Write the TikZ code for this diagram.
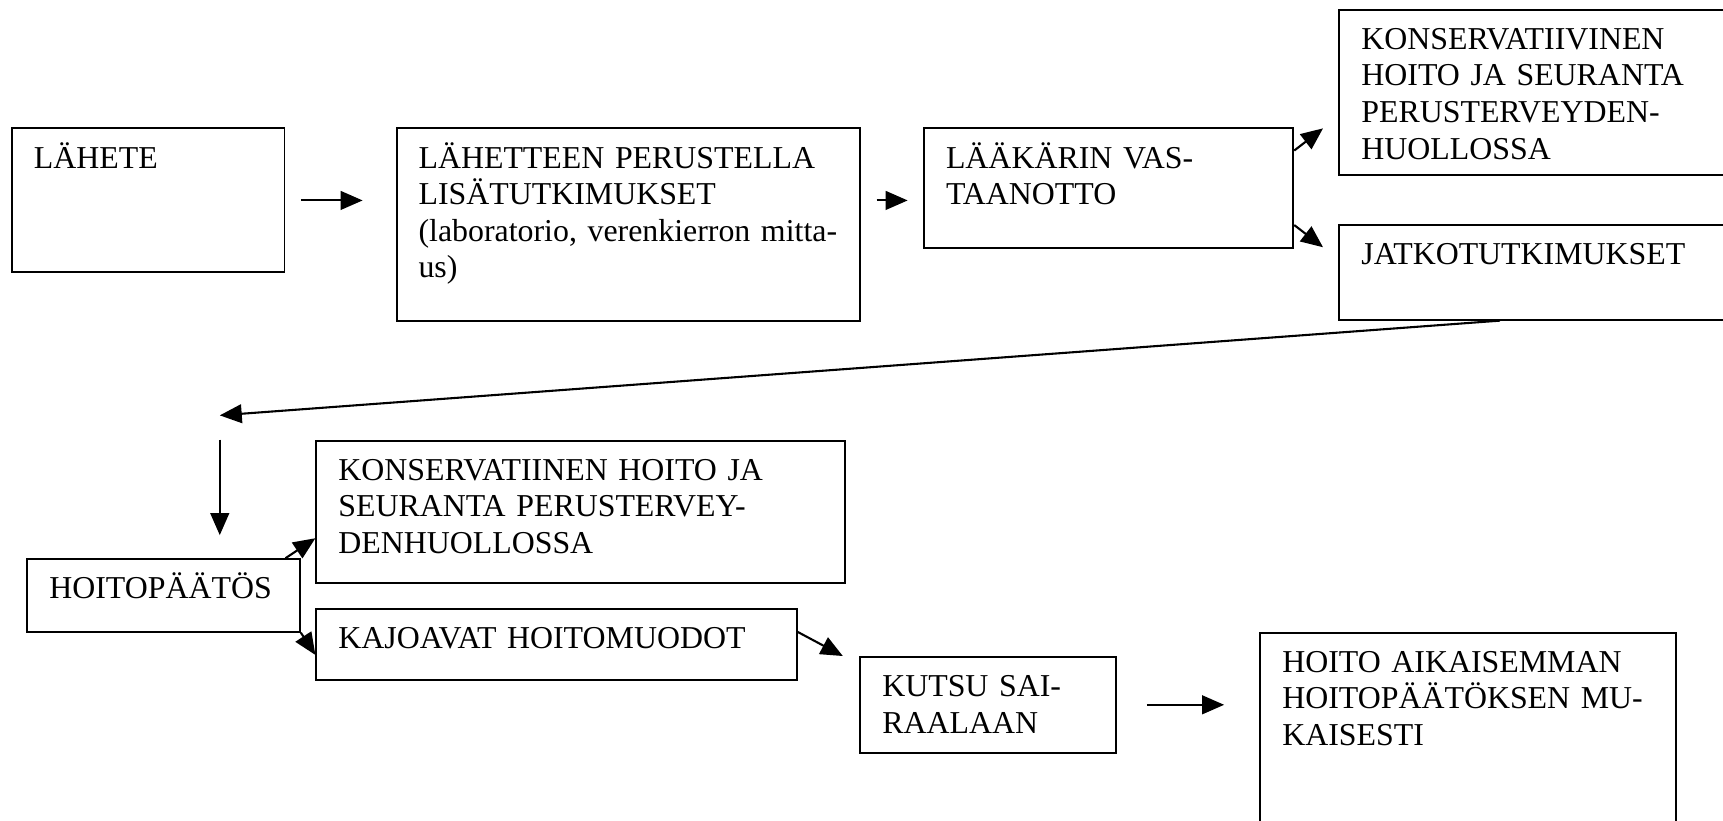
\documentclass[tikz,border=0pt]{standalone}
\usepackage{fontspec}
\setmainfont{Liberation Serif}
\usepackage{tikz}
\usetikzlibrary{positioning, arrows.meta}

\tikzset{
  box/.style={draw, line width=1.8pt, anchor=north west, align=left,
    inner xsep=20pt, inner ysep=0pt, text height=36pt,
    font=\fontsize{29pt}{33.3pt}\selectfont}
}

\begin{document}
\begin{tikzpicture}[>={Triangle[length=20pt, width=17pt]}, x=1pt, y=-1pt, line width=1.9pt]
    \useasboundingbox (0,0) rectangle (1568,747);
    \clip (0,0) rectangle (1568,747);

    \node[box, text width=208pt, text depth=95pt] (lahete) at (10,116) {LÄHETE};
    \node[box, text width=382pt, text depth=139pt] (perustelu) at (360,116)
      {LÄHETTEEN PERUSTELLA\\ LISÄTUTKIMUKSET\\ (laboratorio, verenkierron mitta-\\ us)};
    \node[box, text width=296pt, text depth=73pt] (vastaanotto) at (840,116)
      {LÄÄKÄRIN VAS-\\ TAANOTTO};
    \node[box, text width=360pt, text depth=114pt] (konsA) at (1218,8)
      {KONSERVATIIVINEN\\ HOITO JA SEURANTA\\ PERUSTERVEYDEN-\\ HUOLLOSSA};
    \node[box, text width=360pt, text depth=50pt] (jatko) at (1218,204) {JATKOTUTKIMUKSET};
    \node[box, text width=208pt, text depth=30pt] (hoitopaatos) at (24,508) {HOITOPÄÄTÖS};
    \node[box, text width=441pt, text depth=94pt] (konsB) at (287,400)
      {KONSERVATIINEN HOITO JA\\ SEURANTA PERUSTERVEY-\\ DENHUOLLOSSA};
    \node[box, text width=397pt, text depth=29pt] (kajoavat) at (287,553) {KAJOAVAT HOITOMUODOT};
    \node[box, text width=193pt, text depth=51pt] (kutsu) at (782,597) {KUTSU SAI-\\ RAALAAN};
    \node[box, text width=338pt, text depth=164pt] (hoito) at (1146,575)
      {HOITO AIKAISEMMAN\\ HOITOPÄÄTÖKSEN MU-\\ KAISESTI};

    \coordinate (turn) at (200,378);
    \coordinate (drop) at (200,400);

    \draw[->, shorten <=14pt, shorten >=30pt] (lahete.east) -- (lahete.east -| perustelu.west);
    \draw[->, shorten <=14pt, shorten >=14pt] (perustelu.east |- lahete.east) -- (vastaanotto.west |- lahete.east);
    \draw[->] ([yshift=-21pt]vastaanotto.north east) -- ([shift={(-14pt,43pt)}]konsA.south west);
    \draw[->] ([yshift=22pt]vastaanotto.south east) -- ([shift={(-14pt,-21pt)}]jatko.north west);
    \draw[->] ([xshift=147pt]jatko.south west) -- (turn);
    \draw[->] (drop) -- ([yshift=21pt]hoitopaatos.north -| drop);
    \draw[->] ([xshift=-14pt]hoitopaatos.north east) -- ([yshift=42pt]konsB.south west);
    \draw[->] (hoitopaatos.south east) -- ([yshift=-43pt]kajoavat.north west);
    \draw[->] ([yshift=-22pt]kajoavat.north east) -- ([xshift=-15pt]kutsu.north west);
    \draw[->, shorten <=27pt, shorten >=32pt] (kutsu.east) -- (kutsu.east -| hoito.west);
\end{tikzpicture}
\end{document}
